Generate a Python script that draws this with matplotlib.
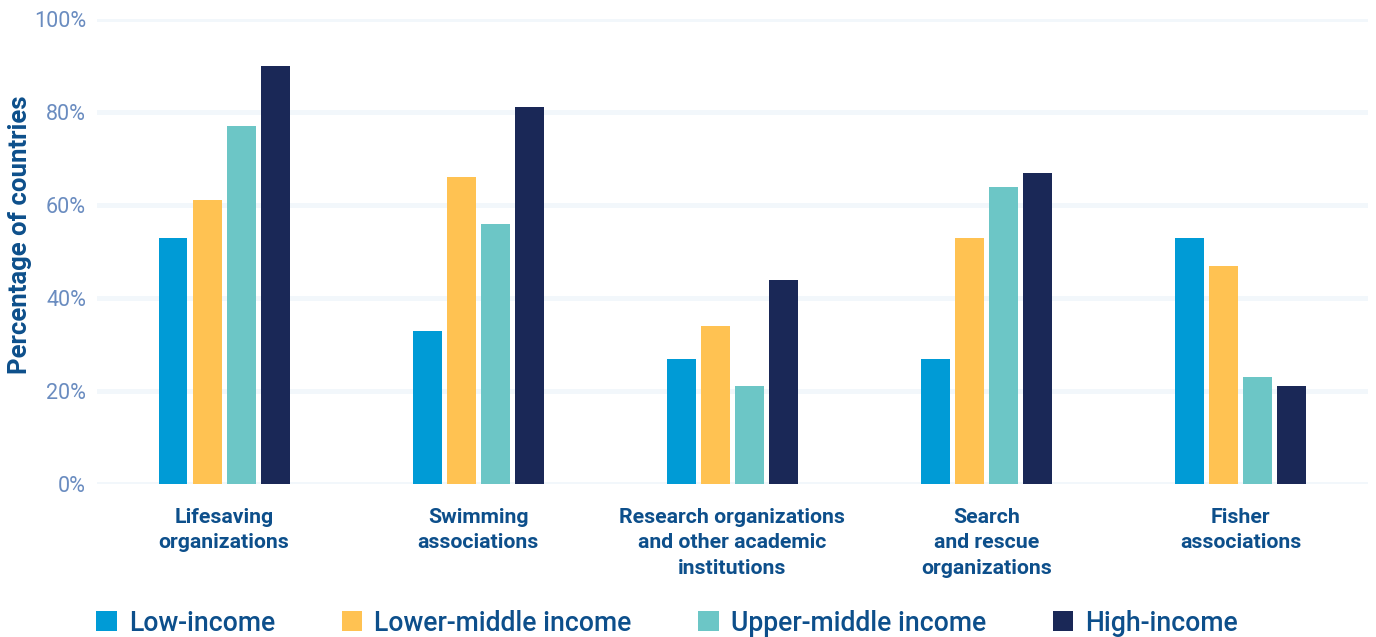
import matplotlib
matplotlib.use("Agg")
import matplotlib.pyplot as plt
import numpy as np
from matplotlib.patches import Patch

categories = ["Lifesaving\norganizations", "Swimming\nassociations",
              "Research organizations\nand other academic\ninstitutions",
              "Search\nand rescue\norganizations", "Fisher\nassociations"]
series_names = ["Low-income", "Lower-middle income", "Upper-middle income", "High-income"]
low_income = [53, 33, 27, 27, 53]
lower_middle = [61, 66, 34, 53, 47]
upper_middle = [77, 56, 21, 64, 23]
high_income = [90, 81, 44, 67, 21]
yticks = [0, 20, 40, 60, 80, 100]
ytick_labels = ["0%", "20%", "40%", "60%", "80%", "100%"]

colors = ["#009bd6", "#ffc252", "#6cc6c6", "#1a2857"]
text_color = "#0d4f8b"
tick_color = "#6a8cc0"
grid_color = "#f2f7fb"

fig = plt.figure(figsize=(13.76, 6.37), dpi=100)
ax = fig.add_axes([0.0705, 0.240, 0.9235, 0.730])

x = np.arange(len(categories))
width = 0.114
step = 0.134
series = [low_income, lower_middle, upper_middle, high_income]
for i, (vals, c) in enumerate(zip(series, colors)):
    ax.bar(x + (i - 1.5) * step, vals, width=width, color=c, zorder=3)

ax.set_xlim(-0.5, 4.5)
ax.set_ylim(0, 100)
ax.set_yticks(yticks)
ax.set_yticklabels(ytick_labels, fontfamily="Roboto", fontweight="normal",
                   fontsize=15.5, color=tick_color)
ax.set_xticks(x)
ax.set_xticklabels(categories, fontfamily="Roboto", fontweight="bold",
                   fontsize=15.3, color=text_color, linespacing=1.45)
ax.tick_params(axis="both", length=0)
ax.tick_params(axis="y", pad=8)
ax.tick_params(axis="x", pad=17)
for s in ax.spines.values():
    s.set_visible(False)
for yv in yticks:
    ax.axhline(yv, color=grid_color, lw=3.6, zorder=1)

fig.text(20 / 1376, 1 - 235 / 637, "Percentage of countries", rotation=90,
         ha="center", va="center", fontfamily="Roboto", fontweight="bold",
         fontsize=18.5, color=text_color)

handles = [Patch(facecolor=c, edgecolor="none") for c in colors]
leg = fig.legend(handles, series_names, loc="lower left",
                 bbox_to_anchor=(0.0525, -0.037), ncol=4, frameon=False,
                 prop={"family": "Roboto", "weight": "medium", "size": 19.2},
                 handlelength=0.77, handleheight=0.77, handletextpad=0.45,
                 columnspacing=2.5)
for t in leg.get_texts():
    t.set_color(text_color)

fig.savefig("out.png", dpi=100, facecolor="white")
